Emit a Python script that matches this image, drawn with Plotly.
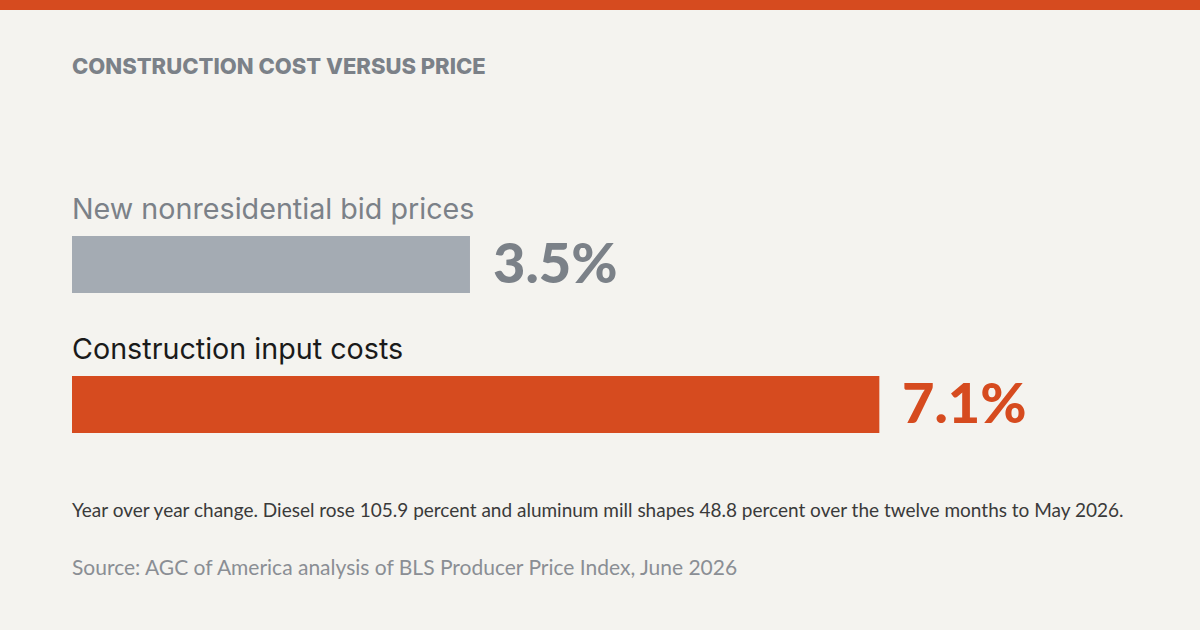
import plotly.graph_objects as go

categories = ["New nonresidential bid prices", "Construction input costs"]
values = [3.5, 7.1]
value_labels = ["3.5%", "7.1%"]
title_text = "CONSTRUCTION COST VERSUS PRICE"
note_text = "Year over year change. Diesel rose 105.9 percent and aluminum mill shapes 48.8 percent over the twelve months to May 2026."
source_text = "Source: AGC of America analysis of BLS Producer Price Index, June 2026"

W, H = 1200, 630
ORANGE = "#D64B1F"
GREY_BAR = "#A4ABB3"
GREY_TXT = "#7B8188"
BG = "#F4F3EF"
bar_colors = [GREY_BAR, ORANGE]
label_colors = [GREY_TXT, "#1A1A1A"]
value_colors = [GREY_TXT, ORANGE]

ypos = [0, 1]
px_per_unit = 140.0
center0 = 264.5
y_top = -center0 / px_per_unit
y_bot = (H - center0) / px_per_unit
left = 72
x_scale = 113.71
x_max = (W - left) / x_scale
PW = W - left

fig = go.Figure()
fig.add_trace(go.Bar(
    x=values, y=ypos, orientation="h",
    marker=dict(color=bar_colors, line=dict(width=0)),
    width=57 / px_per_unit,
    hoverinfo="skip",
))

def py(pixel):
    return 1 - pixel / H

for i, (cat, v, vl) in enumerate(zip(categories, values, value_labels)):
    fig.add_annotation(x=0, y=ypos[i], xref="x", yref="y", text=cat,
                       showarrow=False, xanchor="left", yanchor="bottom",
                       yshift=37, xshift=-2,
                       font=dict(family="Inter", size=28.7, color=label_colors[i]))
    fig.add_annotation(x=v, y=ypos[i], xref="x", yref="y", text=vl,
                       showarrow=False, xanchor="left", yanchor="middle",
                       xshift=21, yshift=3,
                       font=dict(family="Lato", size=56, weight=900, color=value_colors[i]))

fig.add_annotation(x=0, y=py(66), xref="paper", yref="paper",
                   text=title_text, showarrow=False,
                   xanchor="left", yanchor="middle", xshift=-2,
                   font=dict(family="Inter", size=22, weight=800, color=GREY_TXT))
fig.add_annotation(x=0, y=py(509), xref="paper", yref="paper",
                   text=note_text, showarrow=False, xanchor="left", yanchor="middle",
                   xshift=-2,
                   font=dict(family="Lato", size=19, color="#3A3A3A"))
fig.add_annotation(x=0, y=py(566), xref="paper", yref="paper",
                   text=source_text, showarrow=False, xanchor="left", yanchor="middle",
                   xshift=-2,
                   font=dict(family="Lato", size=21, color="#8A8E94"))

fig.add_shape(type="rect", xref="paper", yref="paper", x0=-left / PW, x1=1,
              y0=py(10), y1=1, fillcolor=ORANGE, line=dict(width=0), layer="above")

fig.update_layout(
    width=W, height=H,
    margin=dict(l=left, r=0, t=0, b=0),
    paper_bgcolor=BG, plot_bgcolor=BG,
    showlegend=False,
    xaxis=dict(range=[0, x_max], visible=False, fixedrange=True),
    yaxis=dict(range=[y_bot, y_top], visible=False, fixedrange=True),
)
fig.write_html("out.html")
